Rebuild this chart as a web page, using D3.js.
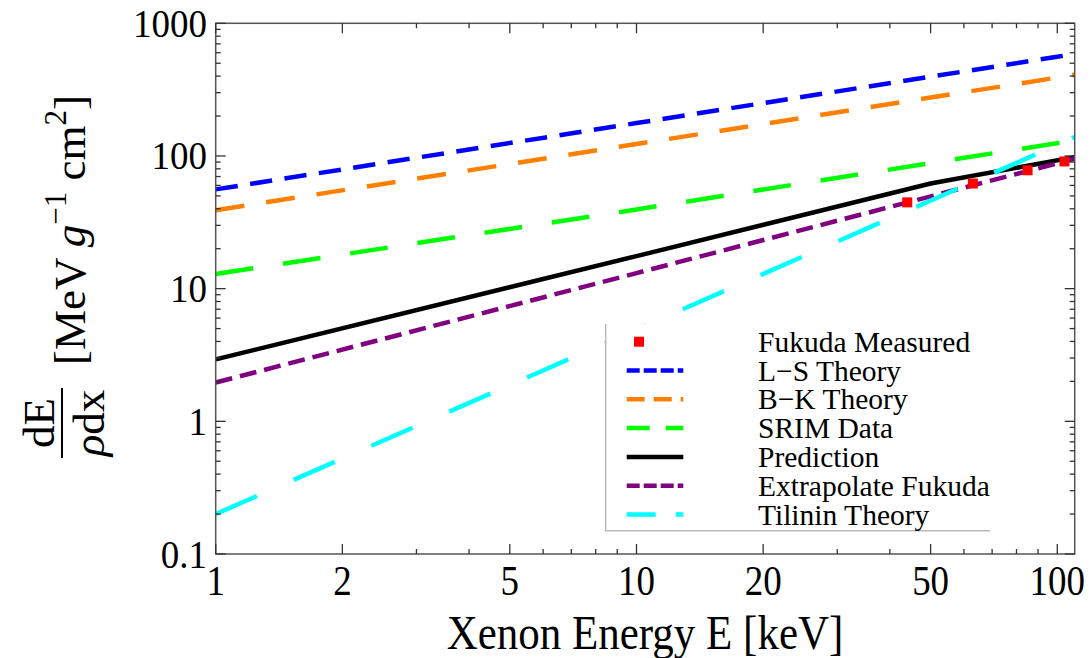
<!DOCTYPE html>
<html>
<head>
<meta charset="utf-8">
<script src="https://cdn.jsdelivr.net/npm/d3@7"></script>
<style>
  html, body { margin: 0; padding: 0; background: #fff; }
  svg { display: block; font-family: "Liberation Serif", "DejaVu Serif", serif; }
</style>
</head>
<body>
<svg id="chart" width="1089" height="658"></svg>
<script>
const lsE = [1, 10, 100, 110]
const lsV = [56, 177, 560, 587]
const bkE = [1, 10, 100, 110]
const bkV = [39, 123, 390, 409]
const srimE = [1, 10, 100, 110]
const srimV = [12.9, 39.5, 125, 131]
const predE = [1, 10, 50, 110]
const predV = [2.93, 17.6, 62, 98]
const extE = [1, 10, 100, 110]
const extV = [1.96, 13.1, 88, 95.5]
const tilE = [1, 10, 100, 110]
const tilV = [0.2, 4.92, 121, 139]
// Fukuda measured points
const fukE = [44, 63, 85, 104]
const fukV = [44.7, 62, 78, 91]

const xMajor = [1, 2, 5, 10, 20, 50, 100]
const xMinor = [3, 4, 6, 7, 8, 9, 30, 40, 60, 70, 80, 90]
const yMajor = [0.1, 1, 10, 100, 1000]
const yMinor = [2, 3, 4, 5, 6, 7, 8, 9]

const legendNames = ['Fukuda Measured', 'L\u2212S Theory', 'B\u2212K Theory', 'SRIM Data',
  'Prediction', 'Extrapolate Fukuda', 'Tilinin Theory']

let svg = d3.select('#chart')

// plot frame
let pLeft = 215.7, pRight = 1074.7, pTop = 23.3, pBottom = 554
let x = d3.scaleLog().domain([1, 110]).range([pLeft, pRight])
let y = d3.scaleLog().domain([0.1, 1000]).range([pBottom, pTop])

svg.append('clipPath').attr('id', 'clip')
  .append('rect').attr('x', pLeft).attr('y', pTop)
  .attr('width', pRight - pLeft).attr('height', pBottom - pTop)

let series = [
  {e: lsE, v: lsV, color: '#0000ff', dash: '22.3,12.5', legDash: '13,4'},
  {e: bkE, v: bkV, color: '#ff8000', dash: '29,22', legDash: '18,9'},
  {e: srimE, v: srimV, color: '#00ff00', dash: '38,30', legDash: '23,16'},
  {e: predE, v: predV, color: '#000000', dash: null, legDash: null},
  {e: extE, v: extV, color: '#800080', dash: '17,8', legDash: '13,4'},
  {e: tilE, v: tilV, color: '#00ffff', dash: '45,40', legDash: '29,20'}
]

let line = d3.line().x(d => x(d[0])).y(d => y(d[1]))
let plot = svg.append('g').attr('clip-path', 'url(#clip)')

series.forEach(s => {
  plot.append('path')
    .attr('d', line(d3.zip(s.e, s.v)))
    .attr('fill', 'none')
    .attr('stroke', s.color)
    .attr('stroke-width', 4.5)
    .attr('stroke-dasharray', s.dash)
})

// red squares
let sq = 10
plot.selectAll('rect.fuk').data(d3.zip(fukE, fukV)).enter()
  .append('rect').attr('class', 'fuk')
  .attr('x', d => x(d[0]) - sq / 2).attr('y', d => y(d[1]) - sq / 2)
  .attr('width', sq).attr('height', sq).attr('fill', '#ff0000')

// frame
svg.append('rect').attr('x', pLeft).attr('y', pTop)
  .attr('width', pRight - pLeft).attr('height', pBottom - pTop)
  .attr('fill', 'none').attr('stroke', '#555').attr('stroke-width', 1.5)

// ticks on all four sides, pointing inward
let tickG = svg.append('g').attr('stroke', '#333').attr('stroke-width', 1.3)
let drawXTicks = function (vals, len) {
  vals.forEach(v => {
    tickG.append('line').attr('x1', x(v)).attr('x2', x(v)).attr('y1', pBottom).attr('y2', pBottom - len)
    tickG.append('line').attr('x1', x(v)).attr('x2', x(v)).attr('y1', pTop).attr('y2', pTop + len)
  })
}
let drawYTicks = function (vals, len) {
  vals.forEach(v => {
    tickG.append('line').attr('y1', y(v)).attr('y2', y(v)).attr('x1', pLeft).attr('x2', pLeft + len)
    tickG.append('line').attr('y1', y(v)).attr('y2', y(v)).attr('x1', pRight).attr('x2', pRight - len)
  })
}
drawXTicks(xMajor, 10)
drawXTicks(xMinor, 5)
drawYTicks(yMajor, 10)
let yMinorAll = []
yMajor.slice(0, -1).forEach(d => yMinor.forEach(m => yMinorAll.push(d * m)))
drawYTicks(yMinorAll, 5)

// tick labels (source text is a bit taller than wide, so stretch vertically)
svg.selectAll('text.xl').data(xMajor).enter().append('text')
  .attr('transform', d => `translate(${x(d)},595) scale(1,1.12)`)
  .attr('text-anchor', 'middle').style('font-size', '37px')
  .text(d => d)
svg.selectAll('text.yl').data(yMajor).enter().append('text')
  .attr('transform', d => `translate(207,${y(d) + 13.5}) scale(1,1.08)`)
  .attr('text-anchor', 'end').style('font-size', '37px')
  .text(d => d)

// axis titles
svg.append('text').attr('transform', 'translate(645,649) scale(1,1.15)')
  .attr('text-anchor', 'middle').style('font-size', '43px')
  .text('Xenon Energy E [keV]')

let frac = svg.append('g').attr('transform', 'translate(62,423) rotate(-90)')
frac.append('line').attr('x1', -35).attr('x2', 35).attr('y1', 0).attr('y2', 0)
  .attr('stroke', '#000').attr('stroke-width', 2)
frac.append('text').attr('x', 0).attr('y', -8).attr('text-anchor', 'middle')
  .style('font-size', '45px').text('dE')
let den = frac.append('text').attr('x', 0).attr('y', 42).attr('text-anchor', 'middle')
  .style('font-size', '45px')
den.append('tspan').style('font-style', 'italic').text('\u03c1')
den.append('tspan').text('dx')

let unit = svg.append('g').attr('transform', 'translate(85,230) rotate(-90)')
let ut = unit.append('text').attr('x', 0).attr('y', 0).attr('text-anchor', 'middle')
  .style('font-size', '45px')
ut.append('tspan').text('[MeV ')
ut.append('tspan').style('font-style', 'italic').text('g')
ut.append('tspan').attr('dy', -19).style('font-size', '31px').text('\u22121')
ut.append('tspan').attr('dy', 19).text(' cm')
ut.append('tspan').attr('dy', -19).style('font-size', '31px').text('2')
ut.append('tspan').attr('dy', 19).text(']')

// legend
let lx0 = 605.7, ly0 = 324, lx1 = 990, ly1 = 530.7
let leg = svg.append('g')
leg.append('rect').attr('x', lx0).attr('y', ly0)
  .attr('width', lx1 - lx0).attr('height', ly1 - ly0).attr('fill', '#fff')
leg.append('path').attr('d', `M${lx0},${ly0}V${ly1}H${lx1}`)
  .attr('fill', 'none').attr('stroke', '#bbb').attr('stroke-width', 1.5)

let rowY = i => 341.7 + i * 28.8
leg.append('rect').attr('x', 639 - 5).attr('y', rowY(0) - 5)
  .attr('width', 10).attr('height', 10).attr('fill', '#ff0000')
series.forEach((s, i) => {
  leg.append('line').attr('x1', 626.7).attr('x2', 683.3)
    .attr('y1', rowY(i + 1)).attr('y2', rowY(i + 1))
    .attr('stroke', s.color).attr('stroke-width', 4.5)
    .attr('stroke-dasharray', s.legDash)
})
legendNames.forEach((t, i) => {
  leg.append('text').attr('x', 758).attr('y', rowY(i) + 10)
    .style('font-size', '29.5px').text(t)
})
</script>
</body>
</html>
